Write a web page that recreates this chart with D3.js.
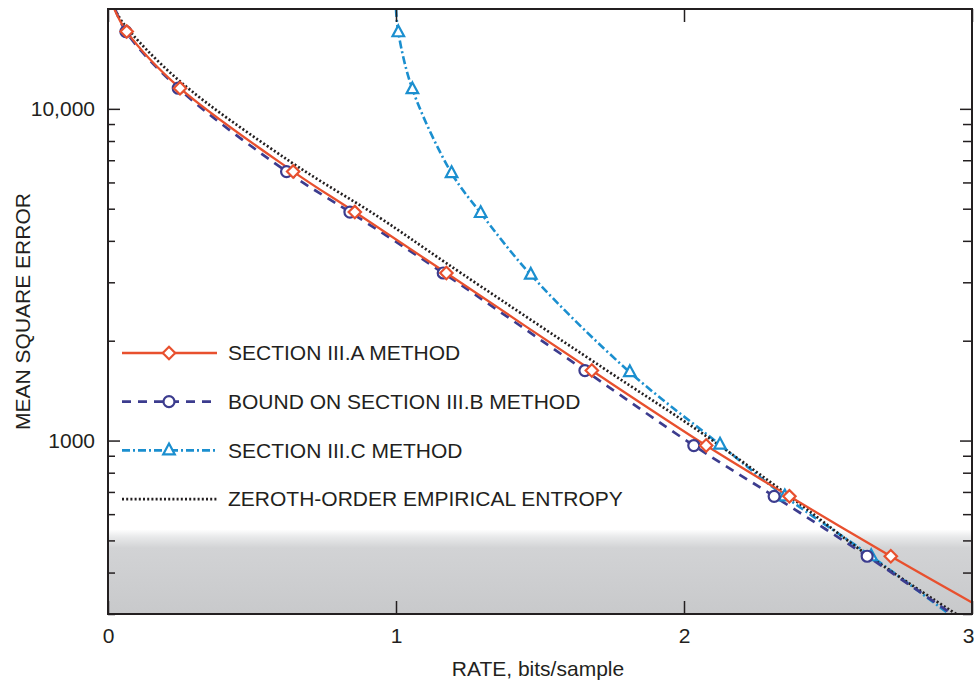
<!DOCTYPE html>
<html>
<head>
<meta charset="utf-8">
<script src="https://cdn.jsdelivr.net/npm/d3@7"></script>
<style>
    body { margin: 0; background: #fff; }
    svg text { font-family: "Liberation Sans", Arial, Helvetica, sans-serif; fill: #231f20; }
</style>
</head>
<body>
<svg id="chart" width="974" height="680"></svg>
<script>

// values (rate in bits/sample, mean square error)
var rateA = [0.022, 0.065, 0.250, 0.643, 0.857, 1.175, 1.680, 2.077, 2.366, 2.718, 3.0];
var mseA  = [20000, 17100, 11540, 6470, 4885, 3200, 1626, 966, 679, 448, 325];

var rateB = [0.025, 0.062, 0.244, 0.620, 0.840, 1.164, 1.656, 2.034, 2.313, 2.636, 2.93];
var mseB  = [20000, 17100, 11540, 6470, 4885, 3200, 1626, 966, 679, 448, 300];

var rateC = [1.0, 1.008, 1.057, 1.193, 1.294, 1.468, 1.812, 2.125, 2.35, 2.65, 2.92];
var mseC  = [20000, 17020, 11460, 6400, 4853, 3162, 1607, 972, 679, 448, 300];

var rateH = [0.024, 0.052, 0.25, 0.631, 0.943, 1.176, 1.717, 2.078, 2.366, 2.643, 2.945];
var mseH  = [20000, 18150, 12100, 6950, 4700, 3420, 1660, 1030, 680, 448, 300];

var legendLabels = ['SECTION III.A METHOD', 'BOUND ON SECTION III.B METHOD',
    'SECTION III.C METHOD', 'ZEROTH-ORDER EMPIRICAL ENTROPY'];

var xTicks = [0, 1, 2, 3];
var yMajor = [1000, 10000];
var yMinor = [300, 400, 500, 600, 700, 800, 900, 2000, 3000, 4000, 5000, 6000, 7000, 8000, 9000];
var xDomain = [0, 3];
var yDomain = [300, 20000];
var shadeTop = 540;   // MSE level where the grey band starts

var svg = d3.select('#chart');
var margin = {top: 9, right: 2, bottom: 66, left: 108};
var width = 974 - margin.left - margin.right,
    height = 680 - margin.top - margin.bottom;

var x = d3.scaleLinear().domain(xDomain).range([0, width]);
var y = d3.scaleLog().domain(yDomain).range([height, 0]);

var g = svg.append('g').attr('transform', 'translate(' + margin.left + ',' + margin.top + ')');

var defs = svg.append('defs');
defs.append('clipPath').attr('id', 'plotclip')
    .append('rect').attr('width', width).attr('height', height);

var grad = defs.append('linearGradient').attr('id', 'shade')
    .attr('x1', 0).attr('y1', 0).attr('x2', 0).attr('y2', 1);
grad.append('stop').attr('offset', '0%').attr('stop-color', '#ffffff');
grad.append('stop').attr('offset', '9%').attr('stop-color', '#e8e9ea');
grad.append('stop').attr('offset', '22%').attr('stop-color', '#d2d3d5');
grad.append('stop').attr('offset', '100%').attr('stop-color', '#c8c9cb');

g.append('rect')
    .attr('x', 0)
    .attr('y', y(shadeTop))
    .attr('width', width)
    .attr('height', height - y(shadeTop))
    .attr('fill', 'url(#shade)');

function buildSeries(rates, mses) {
    return rates.map(function (r, i) {
        return {rate: r, mse: mses[i]};
    });
}

var series = [
    {name: legendLabels[0], data: buildSeries(rateA, mseA), color: '#e8502e', width: 2.3, dash: null, marker: 'diamond'},
    {name: legendLabels[1], data: buildSeries(rateB, mseB), color: '#3c3c8e', width: 2.7, dash: '9,7', marker: 'circle'},
    {name: legendLabels[2], data: buildSeries(rateC, mseC), color: '#1b8fcf', width: 2.6, dash: '8,3,2,3', marker: 'triangle'},
    {name: legendLabels[3], data: buildSeries(rateH, mseH), color: '#231f20', width: 2.7, dash: '2,2.2', marker: null}
];

var line = d3.line()
    .x(function (d) { return x(d.rate); })
    .y(function (d) { return y(d.mse); })
    .curve(d3.curveCatmullRom.alpha(0.5));

var plot = g.append('g').attr('clip-path', 'url(#plotclip)');

// draw order: cyan, dotted, blue, red
[2, 3, 1, 0].forEach(function (k) {
    var s = series[k];
    plot.append('path')
        .datum(s.data)
        .attr('fill', 'none')
        .attr('stroke', s.color)
        .attr('stroke-width', s.width)
        .attr('stroke-dasharray', s.dash)
        .attr('d', line);
});

function drawMarker(sel, type, color) {
    if (type === 'diamond') {
        sel.append('path').attr('d', 'M0,-6.2L6.2,0L0,6.2L-6.2,0Z');
    } else if (type === 'circle') {
        sel.append('circle').attr('r', 5.5);
    } else if (type === 'triangle') {
        sel.append('path').attr('d', 'M0,-6.8L5.8,4L-5.8,4Z');
    }
    sel.selectAll('path, circle')
        .attr('fill', '#fff')
        .attr('stroke', color)
        .attr('stroke-width', 2.2);
}

[2, 1, 0].forEach(function (k) {
    var s = series[k];
    var inside = s.data.filter(function (d) {
        return d.mse < yDomain[1] && d.mse > yDomain[0] && d.rate < xDomain[1];
    });
    plot.selectAll('.m' + k)
        .data(inside)
        .enter().append('g')
        .attr('class', 'm' + k)
        .attr('transform', function (d) { return 'translate(' + x(d.rate) + ',' + y(d.mse) + ')'; })
        .each(function () { drawMarker(d3.select(this), s.marker, s.color); });
});

// axes, ticks pointing inward
function styleAxis(a) {
    a.select('.domain').remove();
    a.selectAll('line').attr('stroke', '#231f20').attr('stroke-width', 1.5);
    a.selectAll('text').attr('font-size', 21).style('fill', '#231f20');
}

var yFormat = function (d) { return d >= 10000 ? d3.format(',')(d) : String(d); };

g.append('g')
    .call(d3.axisLeft(y).tickValues(yMajor).tickSize(-12).tickPadding(13).tickFormat(yFormat))
    .call(styleAxis);
g.append('g')
    .call(d3.axisLeft(y).tickValues(yMinor).tickSize(-7).tickFormat(''))
    .call(styleAxis);
g.append('g')
    .attr('transform', 'translate(' + width + ',0)')
    .call(d3.axisRight(y).tickValues(yMajor).tickSize(-12).tickFormat(''))
    .call(styleAxis);
g.append('g')
    .attr('transform', 'translate(' + width + ',0)')
    .call(d3.axisRight(y).tickValues(yMinor).tickSize(-9).tickFormat(''))
    .call(styleAxis);
var xAxis = g.append('g')
    .attr('transform', 'translate(0,' + height + ')')
    .call(d3.axisBottom(x).tickValues(xTicks).tickSize(-13).tickPadding(14).tickFormat(d3.format('d')))
    .call(styleAxis);
// last label sits against the right edge
xAxis.selectAll('.tick text')
    .filter(function (d) { return d === xDomain[1]; })
    .attr('text-anchor', 'end')
    .attr('x', 2);
g.append('g')
    .call(d3.axisTop(x).tickValues(xTicks).tickSize(-13).tickFormat(''))
    .call(styleAxis);

g.append('rect')
    .attr('width', width)
    .attr('height', height)
    .attr('fill', 'none')
    .attr('stroke', '#231f20')
    .attr('stroke-width', 2);

// legend
var legend = g.append('g').attr('transform', 'translate(14,344)');
series.forEach(function (s, i) {
    var row = legend.append('g').attr('transform', 'translate(0,' + (i * 48.7) + ')');
    row.append('line')
        .attr('x1', 0).attr('x2', 95)
        .attr('stroke', s.color)
        .attr('stroke-width', s.width)
        .attr('stroke-dasharray', s.dash);
    if (s.marker) {
        var m = row.append('g').attr('transform', 'translate(47,0)');
        drawMarker(m, s.marker, s.color);
    }
    row.append('text')
        .attr('x', 106)
        .attr('dy', '0.35em')
        .attr('font-size', 21)
        .text(s.name);
});

svg.append('text')
    .attr('x', margin.left + width / 2 - 2)
    .attr('y', 676)
    .attr('text-anchor', 'middle')
    .attr('font-size', 21)
    .text('RATE, bits/sample');

svg.append('text')
    .attr('transform', 'translate(30,' + (margin.top + height / 2) + ') rotate(-90)')
    .attr('text-anchor', 'middle')
    .attr('font-size', 21)
    .text('MEAN SQUARE ERROR');

</script>
</body>
</html>
